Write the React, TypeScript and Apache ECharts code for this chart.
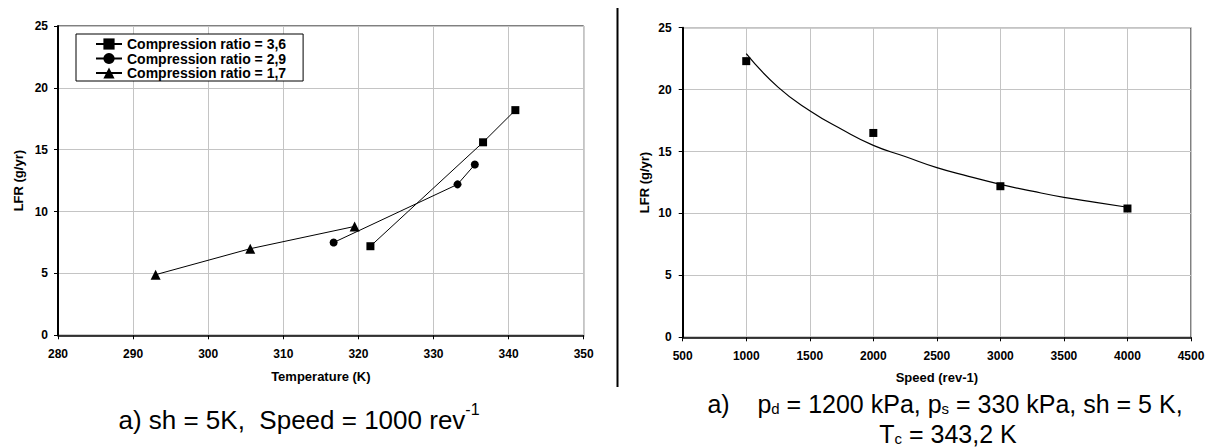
import React, { useEffect, useRef } from 'react';
import * as echarts from 'echarts';

// Left chart: LFR vs temperature for three compression ratios
const seriesNames = ['Compression ratio = 3,6', 'Compression ratio = 2,9', 'Compression ratio = 1,7'];
const tempCR36 = [321.6, 336.6, 340.9];
const lfrCR36 = [7.2, 15.6, 18.2];
const tempCR29 = [316.7, 333.2, 335.5];
const lfrCR29 = [7.5, 12.2, 13.8];
const tempCR17 = [293.0, 305.6, 319.5];
const lfrCR17 = [4.9, 7.0, 8.8];

// Right chart: LFR vs speed
const speeds = [1000, 2000, 3000, 4000];
const lfrSpeed = [22.3, 16.5, 12.2, 10.4];
// trend curve
const trendSpeed = [1000, 1250, 1500, 1750, 2000, 2250, 2500, 2750, 3000, 3250, 3500, 3750, 4000];
const trendLfr = [22.9, 20.2, 18.3, 16.8, 15.5, 14.6, 13.7, 13.0, 12.35, 11.8, 11.3, 10.9, 10.5];

const FONT = 'Arial, "Liberation Sans", sans-serif';

const zip = (xs: number[], ys: number[]) => xs.map((x, i) => [x, ys[i]]);

export default function App() {
  const ref = useRef<HTMLDivElement>(null);
  useEffect(() => {
    if (!ref.current) return;
    const chart = echarts.init(ref.current, undefined, { renderer: 'svg' });
    const axisLabel = (margin: number) => ({
      color: '#000', fontWeight: 'bold', fontSize: 12, fontFamily: FONT, margin,
      formatter: (v: number) => String(v),
    });
    const nameStyle = { color: '#000', fontWeight: 'bold', fontSize: 13, fontFamily: FONT };
    const splitLine = { show: true, lineStyle: { color: '#c4c4c4', width: 1 } };
    const axisTick = { show: true, length: 4, lineStyle: { color: '#000', width: 1 } };
    const lineCommon = {
      type: 'line',
      lineStyle: { color: '#000', width: 1 },
      itemStyle: { color: '#000', opacity: 1 },
      xAxisIndex: 0,
      yAxisIndex: 0,
    };
    chart.setOption({
      animation: false,
      backgroundColor: '#fff',
      grid: [
        { left: 58, top: 26, width: 525.7, height: 309.3, show: true, borderColor: '#000', borderWidth: 1, backgroundColor: 'transparent' },
        { left: 682.7, top: 27.7, width: 508.3, height: 309.6, show: true, borderColor: '#000', borderWidth: 1, backgroundColor: 'transparent' },
      ],
      xAxis: [
        {
          type: 'value', gridIndex: 0, min: 280, max: 350, interval: 10,
          name: 'Temperature (K)', nameLocation: 'middle', nameGap: 35, nameTextStyle: nameStyle,
          axisLine: { show: true, lineStyle: { color: '#000', width: 1.5 } },
          axisTick, axisLabel: axisLabel(13), splitLine,
        },
        {
          type: 'value', gridIndex: 1, min: 500, max: 4500, interval: 500,
          name: 'Speed (rev-1)', nameLocation: 'middle', nameGap: 34, nameTextStyle: nameStyle,
          axisLine: { show: true, lineStyle: { color: '#000', width: 1.5 } },
          axisTick, axisLabel: axisLabel(13), splitLine,
        },
      ],
      yAxis: [
        {
          type: 'value', gridIndex: 0, min: 0, max: 25, interval: 5,
          name: 'LFR (g/yr)', nameLocation: 'middle', nameGap: 33, nameTextStyle: nameStyle,
          axisLine: { show: true, lineStyle: { color: '#000', width: 2 } },
          axisTick, axisLabel: axisLabel(10), splitLine,
        },
        {
          type: 'value', gridIndex: 1, min: 0, max: 25, interval: 5,
          name: 'LFR (g/yr)', nameLocation: 'middle', nameGap: 32, nameTextStyle: nameStyle,
          axisLine: { show: true, lineStyle: { color: '#000', width: 2 } },
          axisTick, axisLabel: axisLabel(11), splitLine,
        },
      ],
      legend: {
        data: seriesNames,
        left: 76, top: 34, orient: 'vertical',
        itemWidth: 26, itemHeight: 14, itemGap: 0.5,
        padding: [3, 17, 1, 19],
        borderColor: '#000', borderWidth: 1, backgroundColor: '#fff',
        textStyle: { color: '#000', fontWeight: 'bold', fontSize: 14, fontFamily: FONT, lineHeight: 14 },
      },
      series: [
        { ...lineCommon, name: seriesNames[0], symbol: 'rect', symbolSize: 8, data: zip(tempCR36, lfrCR36) },
        { ...lineCommon, name: seriesNames[1], symbol: 'circle', symbolSize: 8, data: zip(tempCR29, lfrCR29) },
        { ...lineCommon, name: seriesNames[2], symbol: 'triangle', symbolSize: 10, data: zip(tempCR17, lfrCR17) },
        {
          type: 'line', name: 'Trend', xAxisIndex: 1, yAxisIndex: 1, smooth: true, symbol: 'none',
          lineStyle: { color: '#000', width: 1.2 }, data: zip(trendSpeed, trendLfr),
        },
        {
          type: 'scatter', name: 'Measured', xAxisIndex: 1, yAxisIndex: 1, symbol: 'rect', symbolSize: 8,
          itemStyle: { color: '#000', opacity: 1 }, data: zip(speeds, lfrSpeed),
        },
      ],
      graphic: [
        { type: 'line', shape: { x1: 617.5, y1: 8, x2: 617.5, y2: 387 }, style: { stroke: '#000', lineWidth: 2 } },
        {
          type: 'text', x: 299, y: 419.5,
          style: {
            text: '{m|a) sh = 5K,  Speed = 1000 rev}{sup|-1}',
            textAlign: 'center', textVerticalAlign: 'middle', fill: '#000',
            rich: {
              m: { fontSize: 26, lineHeight: 36, fontFamily: FONT, fill: '#000' },
              sup: { fontSize: 16, lineHeight: 16, verticalAlign: 'top', fontFamily: FONT, fill: '#000' },
            },
          },
        },
        {
          type: 'text', x: 945, y: 404,
          style: {
            text: '{m|a)    p}{sub|d}{m| = 1200 kPa, p}{sub|s}{m| = 330 kPa, sh = 5 K,}',
            textAlign: 'center', textVerticalAlign: 'middle', fill: '#000',
            rich: {
              m: { fontSize: 25, lineHeight: 24, fontFamily: FONT, fill: '#000' },
              sub: { fontSize: 15, lineHeight: 15, verticalAlign: 'bottom', fontFamily: FONT, fill: '#000' },
            },
          },
        },
        {
          type: 'text', x: 948, y: 434,
          style: {
            text: '{m|T}{sub|c}{m| = 343,2 K}',
            textAlign: 'center', textVerticalAlign: 'middle', fill: '#000',
            rich: {
              m: { fontSize: 25, lineHeight: 24, fontFamily: FONT, fill: '#000' },
              sub: { fontSize: 15, lineHeight: 12, verticalAlign: 'bottom', fontFamily: FONT, fill: '#000' },
            },
          },
        },
      ],
    });
    return () => chart.dispose();
  }, []);
  return (
    <div
      ref={ref}
      style={{ position: 'fixed', left: 0, top: 0, width: 1211, height: 447, background: '#fff' }}
    />
  );
}
